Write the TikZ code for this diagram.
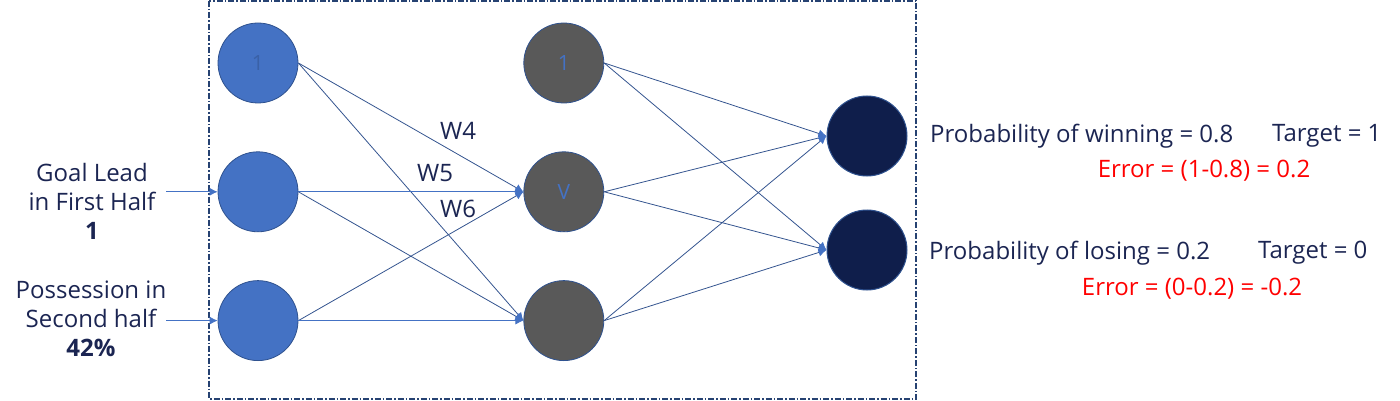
\documentclass[tikz,border=0pt]{standalone}
\usepackage{fontspec}
\setmainfont{Open Sans}
\usetikzlibrary{arrows.meta,positioning}

\definecolor{inblue}{HTML}{4472C4}
\definecolor{rimblue}{HTML}{2F528F}
\definecolor{hidgray}{HTML}{595959}
\definecolor{outnavy}{HTML}{0F1E4B}
\definecolor{txtnavy}{HTML}{1B2552}
\definecolor{errred}{HTML}{FF0000}
\definecolor{wireblue}{HTML}{34548F}

\begin{document}
\begin{tikzpicture}[
    x=1pt, y=-1pt,
    node distance=48pt and 225pt,
    input node/.style={circle,fill=inblue,draw=rimblue,line width=0.8pt,minimum size=80pt,inner sep=0pt,font=\fontsize{21}{21}\selectfont},
    hidden node/.style={circle,fill=hidgray,draw=rimblue,line width=0.8pt,minimum size=80pt,inner sep=0pt,text=inblue,font=\fontsize{21}{21}\selectfont},
    output node/.style={circle,fill=outnavy,draw=rimblue,line width=1pt,minimum size=80pt,inner sep=0pt},
    label text/.style={text=txtnavy,inner sep=0pt,align=center,font=\fontsize{24}{29}\selectfont},
    error text/.style={text=errred,inner sep=0pt,font=\fontsize{24}{29}\selectfont},
    weight text/.style={text=txtnavy,inner sep=0pt,font=\fontsize{24}{24}\selectfont},
    wire/.style={draw=wireblue,line width=0.8pt,-{Latex[length=8pt,width=8pt,color=inblue]}},
    frame/.style={draw=rimblue!80!black,line width=1.2pt,dash pattern=on 6pt off 2pt on 1.5pt off 2pt}
]
\useasboundingbox (0,0) rectangle (1400,401);

% Frame
\draw[frame] (209,1) rectangle (916,399);

% Input layer
\node[input node, text=inblue!85!black] (in1) at (258,63) {1};
\node[input node, below=of in1] (in2) {};
\node[input node, below=of in2] (in3) {};

% Hidden layer
\node[hidden node, right=of in1] (h1) {1};
\node[hidden node, right=of in2] (h2) {V};
\node[hidden node, right=of in3] (h3) {};

% Output layer
\node[output node] (o1) at (867,136) {};
\node[output node] (o2) at (867,250) {};

% Inputs
\node[label text] (goal) at (92,201) {Goal Lead\\in First Half\\\textbf{1}};
\node[label text] (poss) at (91,319) {Possession in\\Second half\\\textbf{42\%}};

% Outputs
\node[label text, anchor=west] (pwin) at (930,136) {Probability of winning = 0.8};
\node[label text, anchor=west] (twin) at (1272,136) {Target = 1};
\node[error text] (ewin) at (1204,171) {Error = (1-0.8) = 0.2};
\node[label text, anchor=west] (plose) at (929,253) {Probability of losing = 0.2};
\node[label text, anchor=west] (tlose) at (1258,253) {Target = 0};
\node[error text] (elose) at (1192,289) {Error = (0-0.2) = -0.2};

% Weights
\node[weight text] (w4) at (458,131) {W4};
\node[weight text] (w5) at (435,173) {W5};
\node[weight text] (w6) at (458,209) {W6};

% Arrows
\draw[wire, draw=inblue] (in2.west -| poss.east) -- (in2.west);
\draw[wire, draw=inblue] (in3.west -| poss.east) -- (in3.west);

\draw[wire] (in1.east) -- (h2.west);
\draw[wire] (in1.east) -- (h3.west);
\draw[wire, draw=inblue] (in2.east) -- (h2.west);
\draw[wire] (in2.east) -- (h3.west);
\draw[wire] (in3.east) -- (h2.west);
\draw[wire, draw=inblue] (in3.east) -- (h3.west);

\draw[wire] (h1.east) -- (o1.west);
\draw[wire] (h1.east) -- (o2.west);
\draw[wire] (h2.east) -- (o1.west);
\draw[wire] (h2.east) -- (o2.west);
\draw[wire] (h3.east) -- (o1.west);
\draw[wire] (h3.east) -- (o2.west);

\end{tikzpicture}
\end{document}
